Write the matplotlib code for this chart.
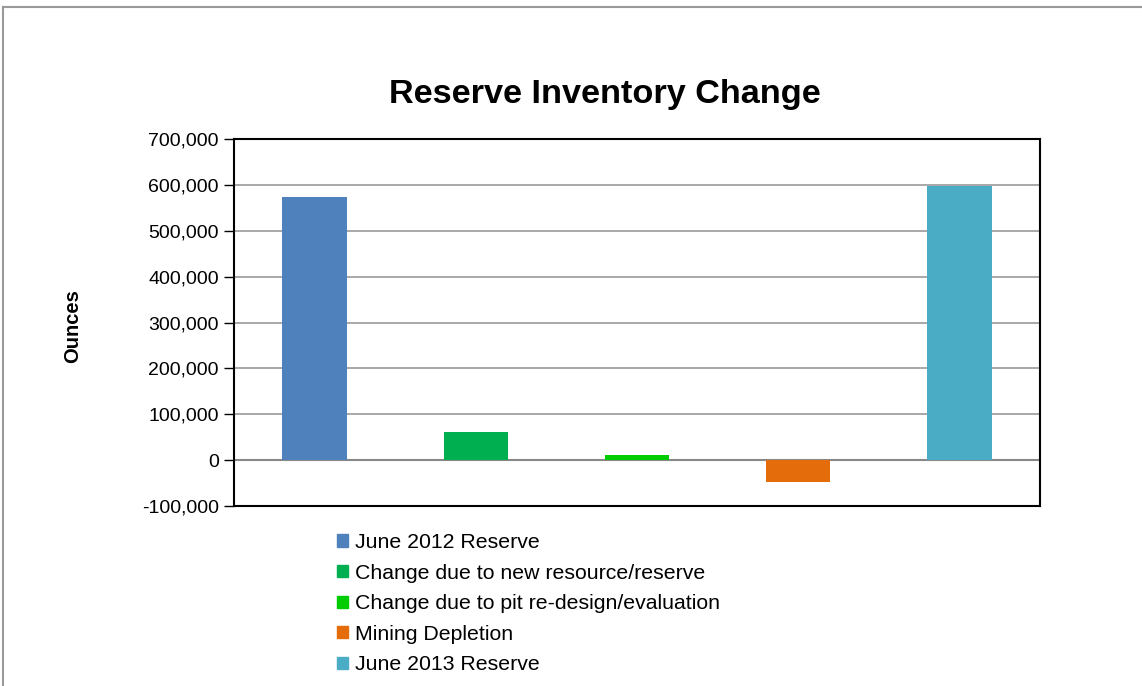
import matplotlib.pyplot as plt
from matplotlib.lines import Line2D
from matplotlib.patches import Patch
from matplotlib.ticker import FuncFormatter

plt.rcParams['font.family'] = ['Liberation Sans', 'DejaVu Sans']

# data
labels = ["June 2012 Reserve", "Change due to new resource/reserve",
          "Change due to pit re-design/evaluation", "Mining Depletion",
          "June 2013 Reserve"]
ounces = [573000, 61000, 11000, -47000, 597000]
colors = ["#4F81BD", "#00B050", "#00CC00", "#E46C0A", "#4BACC6"]
yticks = [-100000, 0, 100000, 200000, 300000, 400000, 500000, 600000, 700000]

fig = plt.figure(figsize=(11.42, 6.86), dpi=100)
ax = fig.add_axes([234/1142, 1-506/686, 806/1142, 367/686])

x = list(range(len(ounces)))
ax.bar(x, ounces, width=0.4, color=colors, zorder=3)

ax.set_xlim(-0.5, len(ounces)-0.5)
ax.set_ylim(-100000, 700000)
ax.set_yticks(yticks)
ax.yaxis.set_major_formatter(FuncFormatter(lambda v, p: f"{int(v):,}"))
ax.tick_params(axis='y', labelsize=14, direction='out', length=7, width=1, pad=4)
ax.set_xticks([])
ax.grid(axis='y', color='#999999', linewidth=1.2, zorder=0)
ax.axhline(0, color='#888888', linewidth=1.5, zorder=2)
for s in ax.spines.values():
    s.set_linewidth(1.5)
    s.set_color('black')

fig.text(73/1142, 1-326/686, "Ounces", rotation=90, fontsize=14.5,
         fontweight='bold', ha='center', va='center')

fig.text(605/1142, 1-94/686, "Reserve Inventory Change", fontsize=24.7,
         fontweight='bold', ha='center', va='center')

handles = [Patch(color=c) for c in colors]
fig.legend(handles, labels, loc='upper left', bbox_to_anchor=(337/1142, 1-533/686),
           frameon=False, fontsize=15.3, handlelength=0.5, handleheight=0.5,
           handletextpad=0.35, labelspacing=0.545, borderpad=0, borderaxespad=0)

# outer chart border
fig.add_artist(Line2D([3/1142, 1], [1-7/686, 1-7/686], color='#999999', linewidth=1.5))
fig.add_artist(Line2D([3/1142, 3/1142], [0, 1-7/686], color='#999999', linewidth=1.5))

fig.savefig("out.png", dpi=100)
